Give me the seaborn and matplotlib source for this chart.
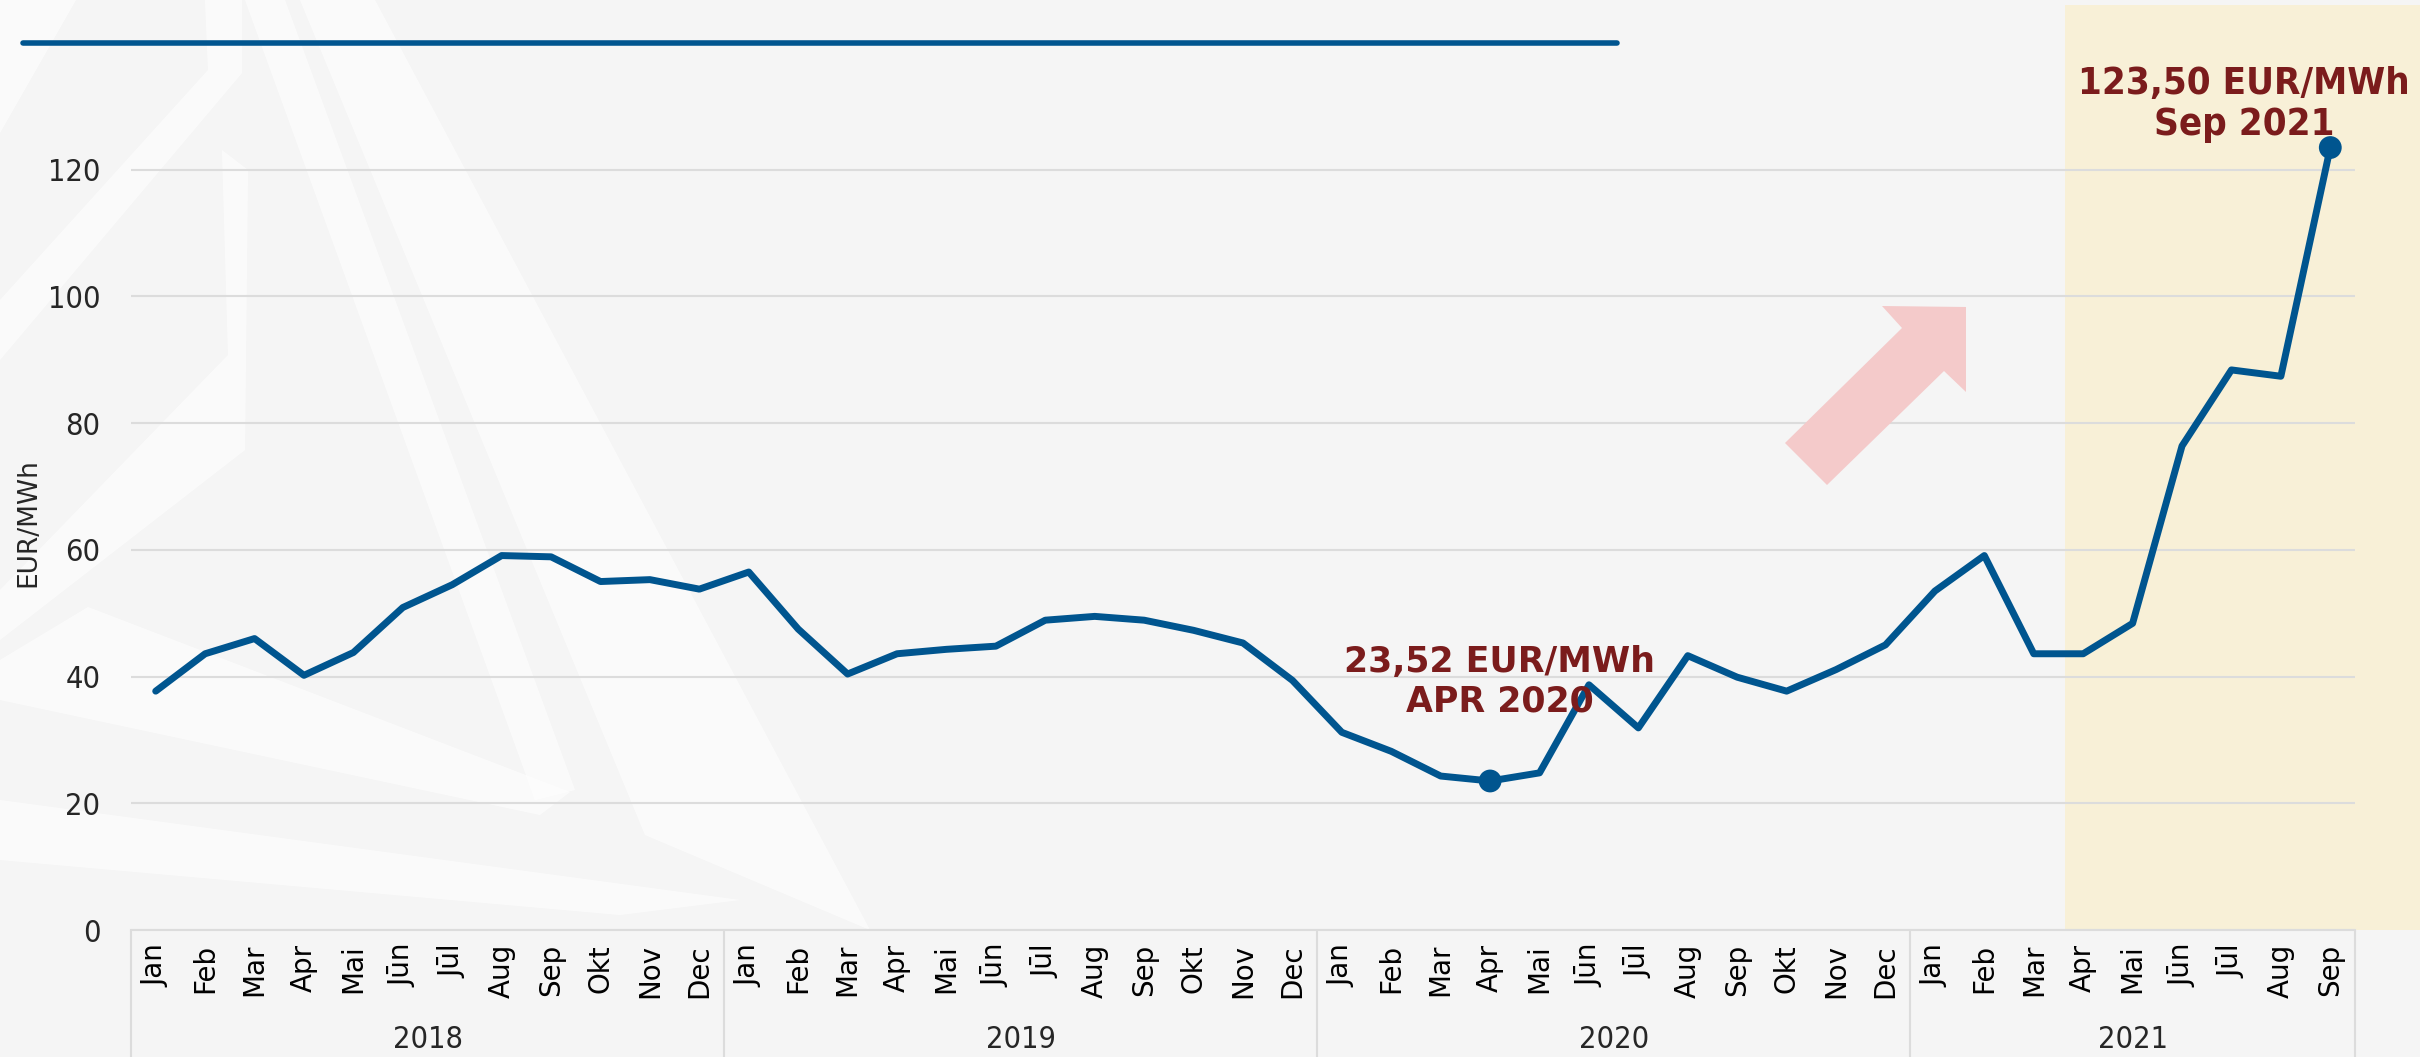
import numpy as np
import pandas as pd
import matplotlib
matplotlib.use("Agg")
import matplotlib.pyplot as plt
from matplotlib.patches import Rectangle, Polygon
from matplotlib.lines import Line2D
import seaborn as sns

# data
month_names = ['Jan', 'Feb', 'Mar', 'Apr', 'Mai', 'Jūn', 'Jūl', 'Aug', 'Sep', 'Okt', 'Nov', 'Dec']
years = ['2018', '2019', '2020', '2021']
months_per_year = [12, 12, 12, 9]

price_2018 = [37.7, 43.6, 46.0, 40.2, 43.8, 50.9, 54.5, 59.1, 58.9, 55.0, 55.3, 53.8]
price_2019 = [56.5, 47.5, 40.4, 43.6, 44.3, 44.8, 48.9, 49.5, 48.9, 47.3, 45.3, 39.4]
price_2020 = [31.2, 28.2, 24.3, 23.52, 24.8, 38.7, 31.9, 43.3, 39.9, 37.7, 41.1, 45.0]
price_2021 = [53.5, 59.1, 43.6, 43.6, 48.4, 76.4, 88.4, 87.4, 123.50]

blue = '#00558f'
dark_red = '#7b1c1c'
grid_col = '#dcdcdc'

prices = price_2018 + price_2019 + price_2020 + price_2021
labels = []
year_of = []
for y, n in zip(years, months_per_year):
    labels += month_names[:n]
    year_of += [y] * n
df = pd.DataFrame({'idx': np.arange(len(prices)), 'price': prices, 'year': year_of, 'month': labels})

sns.set_style('white')
plt.rcParams['font.family'] = ['DejaVu Sans']

W, H = 2420, 1057
fig = plt.figure(figsize=(W / 100, H / 100), dpi=100, facecolor='#f5f5f5')

# faint watermark shapes in the background (pixel coords)
shapes = [
    [(0, 0), (76, 0), (0, 133)],
    [(205, 0), (242, 0), (242, 73), (0, 360), (0, 300), (208, 70)],
    [(222, 150), (248, 170), (245, 450), (0, 640), (0, 590), (228, 355)],
    [(245, 0), (285, 0), (575, 790), (535, 800)],
    [(300, 0), (375, 0), (870, 930), (645, 835)],
    [(0, 660), (88, 607), (570, 792), (540, 815), (0, 700)],
    [(0, 800), (740, 900), (620, 915), (0, 860)],
]
for s in shapes:
    pts = [(x / W, 1 - y / H) for x, y in s]
    fig.add_artist(Polygon(pts, closed=True, transform=fig.transFigure,
                           facecolor='white', edgecolor='none', alpha=0.6, zorder=-3))

# highlighted 2021 region
fig.add_artist(Rectangle((2065 / W, 127 / H), 1 - 2065 / W, (1052 - 127) / H,
                         transform=fig.transFigure, facecolor='#f8f0d7',
                         edgecolor='none', zorder=-2))

# top rule
fig.add_artist(Line2D([23 / W, 1617 / W], [1 - 43 / H, 1 - 43 / H], transform=fig.transFigure,
                      color=blue, lw=4, zorder=-1))

ax = fig.add_axes([131 / W, 127 / H, 2224 / W, 887 / H])
ax.set_facecolor('none')

sns.lineplot(data=df, x='idx', y='price', color=blue, lw=5, ax=ax, zorder=3)

# highlighted points
low = df.loc[df['price'].idxmin()]
last = df.iloc[-1]
marks = pd.DataFrame([low, last])
sns.scatterplot(data=marks, x='idx', y='price', color=blue, s=270, edgecolor='none', ax=ax, zorder=4)

ax.set_xlim(-0.5, len(prices) - 0.5)
ax.set_ylim(0, 140)
ax.set_yticks([0, 20, 40, 60, 80, 100, 120])
ax.yaxis.grid(True, color=grid_col, lw=1.5)
ax.set_axisbelow(True)
for sp in ['top', 'right', 'left']:
    ax.spines[sp].set_visible(False)
ax.spines['bottom'].set_color(grid_col)
ax.spines['bottom'].set_linewidth(1.5)

ax.set_xticks(df['idx'])
ax.set_xticklabels(df['month'], rotation=90, fontsize=20, color='black')
ax.tick_params(axis='x', length=0, pad=10)
ax.tick_params(axis='y', length=0, pad=22)
for t in ax.get_yticklabels():
    t.set_fontstretch('condensed')
    t.set_fontsize(22)

ax.set_xlabel('')
ax.set_ylabel('EUR/MWh', fontsize=19)
ax.yaxis.set_label_coords(-0.0405, 0.459)

# year groups below month labels
trans = ax.get_xaxis_transform()
bounds = np.cumsum([0] + months_per_year) - 0.5
ax.vlines(bounds, -0.145, 0, transform=trans, colors=grid_col, lw=1.5, clip_on=False)
for i, y in enumerate(years):
    ax.text((bounds[i] + bounds[i + 1]) / 2, -0.124, y, transform=trans, ha='center', va='center',
            fontsize=22, fontstretch='condensed')

# annotations
ax.annotate(f"{low['price']:.2f}".replace('.', ',') + ' EUR/MWh\nAPR ' + low['year'],
            xy=(low['idx'], low['price']), xytext=(7, 45), textcoords='offset points',
            ha='center', va='bottom', multialignment='center',
            fontsize=25, fontweight='bold', color=dark_red, zorder=5)
ax.annotate(f"{last['price']:.2f}".replace('.', ',') + ' EUR/MWh\n' + last['month'] + ' ' + last['year'],
            xy=(last['idx'], last['price']), xytext=(-62, 3), textcoords='offset points',
            ha='center', va='bottom', multialignment='center',
            fontsize=27.5, fontweight='bold', fontstretch='condensed', color=dark_red, zorder=5)

# rising arrow
arrow_px = [(1882, 306), (1966, 307), (1966, 392), (1944, 371), (1827, 485), (1785, 443), (1902, 328)]
fig.add_artist(Polygon([(x / W, 1 - y / H) for x, y in arrow_px], closed=True,
                       transform=fig.transFigure, facecolor='#f4caca', edgecolor='none', zorder=1))

fig.savefig('out.png', dpi=100, facecolor=fig.get_facecolor())
